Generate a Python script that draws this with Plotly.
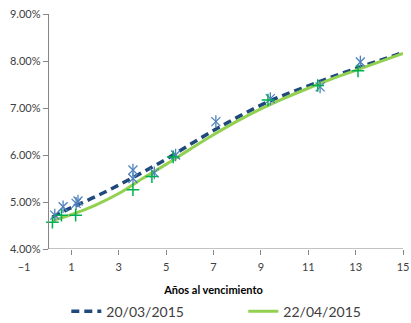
import plotly.graph_objects as go

# Observed bond yields (years to maturity, yield %)
obs_mar_x = [0.30, 0.65, 1.20, 1.28, 3.60, 3.60, 4.50, 5.40, 7.10, 9.40, 11.50, 13.20]
obs_mar_y = [4.72, 4.90, 4.97, 5.02, 5.68, 5.50, 5.62, 6.00, 6.71, 7.20, 7.45, 7.98]

obs_apr_x = [0.20, 0.58, 1.18, 3.60, 4.40, 5.30, 9.30, 11.40, 13.10]
obs_apr_y = [4.57, 4.72, 4.72, 5.26, 5.54, 5.96, 7.17, 7.48, 7.79]

# Fitted yield curves
curve_x = [0.2, 1, 2, 3, 4, 5, 6, 7, 8, 9, 10, 11, 12, 13, 14, 15]
curve_mar = [4.68, 4.88, 5.11, 5.36, 5.63, 5.91, 6.22, 6.52, 6.80, 7.06, 7.28, 7.47, 7.66, 7.84, 8.01, 8.18]
curve_apr = [4.60, 4.73, 4.93, 5.18, 5.50, 5.80, 6.12, 6.43, 6.72, 6.98, 7.21, 7.42, 7.62, 7.80, 7.98, 8.16]

series_names = ["20/03/2015", "22/04/2015"]
x_ticks = [-1, 1, 3, 5, 7, 9, 11, 13, 15]
y_ticks = [4, 5, 6, 7, 8, 9]
y_tick_text = [f"{v:.2f}%" for v in y_ticks]

axis_grey = "#868686"
text_grey = "#404040"
font_family = "Lato, 'Open Sans', sans-serif"

fig = go.Figure()

fig.add_trace(go.Scatter(
    x=curve_x, y=curve_mar, mode="lines", name=series_names[0],
    line=dict(color="#1F497D", width=3.5, dash="8px,5px", shape="spline"),
))
fig.add_trace(go.Scatter(
    x=curve_x, y=curve_apr, mode="lines", name=series_names[1],
    line=dict(color="#92D050", width=3, shape="spline"),
))
# Star markers: an X with a vertical stroke
for sym in ("x-thin-open", "line-ns-open"):
    fig.add_trace(go.Scatter(
        x=obs_mar_x, y=obs_mar_y, mode="markers", showlegend=False,
        marker=dict(symbol=sym, size=9, color="#4F81BD",
                    line=dict(color="#4F81BD", width=1.3)),
    ))
fig.add_trace(go.Scatter(
    x=obs_apr_x, y=obs_apr_y, mode="markers", showlegend=False,
    marker=dict(symbol="cross-thin-open", size=9, color="#00B050",
                line=dict(color="#00B050", width=1.5)),
))

# Horizontal axis line starts where the vertical axis crosses (x = 0)
fig.add_shape(type="line", xref="x", yref="y", x0=0, x1=15, y0=4, y1=4,
              line=dict(color=axis_grey, width=1), layer="above")

fig.update_layout(
    width=411, height=323,
    margin=dict(l=24, r=8, t=14, b=74, autoexpand=False),
    paper_bgcolor="white", plot_bgcolor="white",
    font=dict(family=font_family, color=text_grey, size=11),
    showlegend=True,
    legend=dict(orientation="h", x=0.592, xanchor="center",
                xref="container", yref="container", y=0.035, yanchor="middle",
                font=dict(size=14, color=text_grey), entrywidth=132,
                tracegroupgap=0, bgcolor="rgba(0,0,0,0)"),
    xaxis=dict(
        range=[-1, 15], tickvals=x_ticks, ticks="", showline=False,
        showgrid=False, zeroline=False, automargin=False,
        ticklabelstandoff=10,
        tickfont=dict(size=11, color=text_grey),
        minor=dict(tickvals=x_ticks[1:], ticks="outside", ticklen=5,
                   tickcolor=axis_grey, showgrid=False),
        title=dict(text="<b>Años al vencimiento</b>", font=dict(size=11, color="#000000"),
                   standoff=14),
    ),
    yaxis=dict(
        range=[4, 9], tickvals=y_ticks, ticktext=y_tick_text,
        anchor="free", position=1 / 16, showline=True, linecolor=axis_grey,
        ticks="outside", ticklen=5, tickcolor=axis_grey,
        showgrid=False, zeroline=False, automargin=False,
        tickfont=dict(size=11, color=text_grey),
    ),
)

fig.write_html("out.html")
